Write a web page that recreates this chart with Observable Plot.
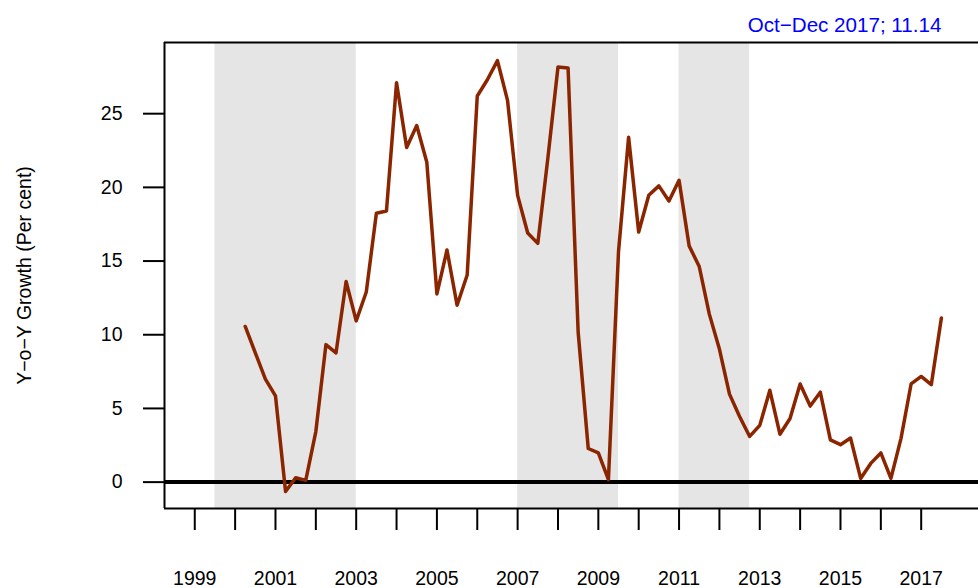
<!DOCTYPE html>
<html><head><meta charset="utf-8">
<script src="https://cdn.jsdelivr.net/npm/d3@7"></script>
<script src="https://cdn.jsdelivr.net/npm/@observablehq/plot@0.6"></script>
<style>html,body{margin:0;padding:0;background:#fff;}</style>
</head><body><div id="chart"></div>
<script>
// Quarterly y-o-y growth (per cent); first quarter sits at 2000.25 on the year axis
const startPeriod = 2000.25;
const growth = [
  10.56, 8.77, 6.99, 5.85, -0.64, 0.30, 0.12, 3.43, 9.33, 8.77,
  13.61, 10.94, 12.9, 18.24, 18.4, 27.1, 22.7, 24.2, 21.7, 12.77,
  15.75, 12.0, 14.05, 26.2, 27.3, 28.6, 25.9, 19.46, 16.9, 16.2,
  22.0, 28.17, 28.1, 10.17, 2.28, 1.98, 0.17, 15.65, 23.4, 16.97,
  19.46, 20.1, 19.08, 20.48, 16.03, 14.63, 11.4, 9.03, 5.97, 4.45,
  3.1, 3.85, 6.23, 3.25, 4.32, 6.66, 5.16, 6.1, 2.87, 2.54,
  2.99, 0.25, 1.27, 1.98, 0.25, 2.97, 6.66, 7.17, 6.61, 11.14
];
const shadeStart = [1999.5, 2007.0, 2011.0];
const shadeEnd = [2003.0, 2009.5, 2012.75];
const yTicks = [0, 5, 10, 15, 20, 25];
const xTicks = [1999,2000,2001,2002,2003,2004,2005,2006,2007,2008,2009,2010,2011,2012,2013,2014,2015,2016,2017];
const latestLabel = "Oct\u2212Dec 2017; 11.14";
const yLabel = "Y\u2212o\u2212Y Growth (Per cent)";

const series = growth.map((v, i) => ({t: startPeriod + 0.25 * i, v}));
const shades = shadeStart.map((s, i) => ({x1: s, x2: shadeEnd[i]}));
const xDom = [1998.25, 2018.42];
const yDom = [-1.79, 29.83];
const font = "'Liberation Sans', Arial, Helvetica, sans-serif";

const chart = Plot.plot({
  width: 978,
  height: 588,
  marginLeft: 164,
  marginRight: 0,
  marginTop: 42,
  marginBottom: 80,
  x: {domain: xDom},
  y: {domain: yDom},
  style: {fontFamily: font, fontSize: "19.5px", color: "black", background: "white"},
  marks: [
    Plot.rect(shades, {x1: "x1", x2: "x2", y1: yDom[0], y2: yDom[1], fill: "#e5e5e5"}),
    Plot.ruleY([yDom[0], yDom[1]], {stroke: "black", strokeWidth: 2}),
    Plot.ruleX([xDom[0]], {stroke: "black", strokeWidth: 2}),
    Plot.ruleY([0], {stroke: "black", strokeWidth: 4}),
    Plot.line(series, {x: "t", y: "v", stroke: "#8B2500", strokeWidth: 3.5, strokeLinejoin: "round", strokeLinecap: "round"}),
    Plot.axisY({ticks: yTicks, tickSize: 21, tickPadding: 21, strokeWidth: 2, label: null}),
    Plot.axisX({ticks: xTicks, tickSize: 22, tickPadding: 41, strokeWidth: 2, label: null,
      tickFormat: d => (d % 2 === 1 ? String(d) : "")}),
    Plot.text([latestLabel], {x: series[series.length - 1].t, y: yDom[1], text: d => d,
      textAnchor: "end", lineAnchor: "middle", dy: -17, fill: "#0000FF", fontSize: 20.6}),
    Plot.text([yLabel], {frameAnchor: "left", text: d => d, rotate: -90, dx: -140,
      lineAnchor: "middle", textAnchor: "middle", fill: "black", fontSize: 19.5})
  ]
});
document.getElementById("chart").appendChild(chart);
</script>
</body></html>
